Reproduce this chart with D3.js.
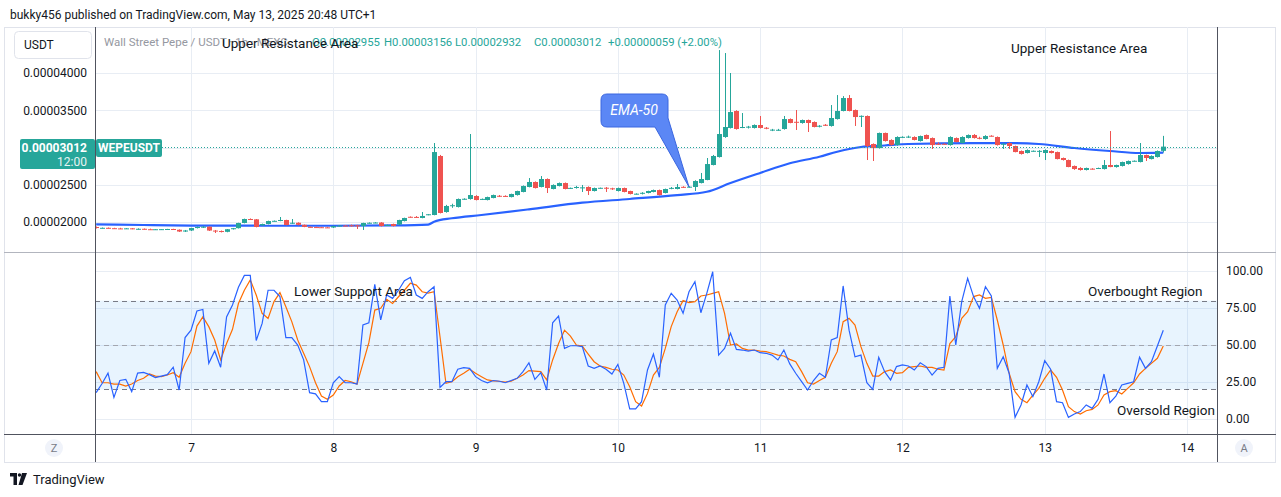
<!DOCTYPE html>
<html>
<head>
<meta charset="utf-8">
<script src="https://cdn.jsdelivr.net/npm/d3@7"></script>
<style>
  body { margin: 0; background: #fff; }
  svg text { font-family: Roboto, "Noto Sans", sans-serif; }
</style>
</head>
<body>
<svg id="chart" width="1281" height="497"></svg>
<script>
// hourly bars, first one at May 6 08:00, prices in units of 0.00000001
var firstBar = Date.UTC(2025, 4, 6, 8);

var open = [1933,1919,1922,1917,1914,1911,1915,1906,1909,1903,1900,1903,1904,1906,1896,1872,1886,1919,1925,1937,
  1885,1879,1868,1903,1917,1987,2040,2036,1955,1973,2013,2016,2027,1980,1990,1962,1935,1932,1930,1928,
  1926,1946,1952,1955,1955,1946,1987,1990,1993,1955,1973,1966,2013,2070,2068,2054,2097,2094,2886,2134,
  2215,2201,2309,2309,2349,2300,2295,2322,2352,2350,2335,2362,2403,2470,2537,2470,2577,2443,2483,2523,
  2452,2462,2456,2470,2416,2456,2460,2452,2416,2456,2416,2376,2380,2389,2403,2429,2389,2450,2443,2472,
  2466,2470,2523,2564,2765,2872,3141,3262,3490,3268,3270,3262,3302,3265,3232,3232,3248,3382,3345,3329,
  3369,3342,3285,3305,3289,3382,3490,3664,3503,3415,3423,3047,2993,3195,3101,3033,3138,3140,3141,3087,
  3168,3127,3050,3050,3033,3127,3060,3127,3168,3130,3114,3158,3141,3044,3060,3020,2953,2926,2950,2950,
  2926,2953,2939,2859,2832,2752,2725,2698,2716,2720,2711,2765,2738,2752,2778,2819,2805,2899,2845,2872,2955];
var high = [1940,1926,1926,1922,1922,1917,1918,1915,1913,1911,1905,1906,1908,1909,1900,1893,1922,1940,1945,1940,
  1893,1886,1906,1920,1990,2045,2048,2040,1978,2018,2020,2067,2030,2040,1995,1966,1940,1937,1935,1934,
  1950,1958,1958,1965,1962,1990,1995,1998,1998,1964,1978,2030,2058,2075,2080,2134,2105,3060,2900,2230,
  2245,2315,2318,3181,2360,2315,2340,2368,2362,2358,2380,2420,2490,2590,2545,2617,2585,2505,2530,2530,
  2462,2485,2497,2478,2462,2462,2470,2460,2462,2462,2420,2385,2400,2420,2435,2435,2448,2470,2510,2480,
  2478,2560,2658,2859,2900,4308,4268,4000,3500,3463,3290,3310,3423,3275,3250,3250,3423,3390,3503,3375,
  3375,3350,3300,3315,3570,3704,3690,3704,3510,3430,3430,3055,3200,3200,3110,3150,3150,3160,3150,3160,
  3175,3135,3070,3055,3150,3135,3150,3175,3180,3145,3165,3165,3148,3055,3068,3025,2960,2975,2960,2965,
  2975,2960,2945,2865,2838,2758,2735,2730,2722,2730,2832,3221,2770,2810,2825,2826,3060,2905,2895,2960,3156];
var low = [1913,1913,1913,1910,1905,1906,1903,1899,1899,1896,1896,1898,1899,1898,1866,1866,1879,1913,1920,1879,
  1852,1860,1862,1899,1913,1982,2030,1928,1950,1968,2008,2010,1955,1975,1955,1930,1928,1925,1924,1922,
  1920,1942,1944,1940,1906,1893,1980,1984,1940,1950,1940,1960,2008,2060,2058,2050,2090,2090,2115,2125,
  2190,2195,2300,2300,2290,2295,2290,2318,2335,2338,2330,2355,2398,2465,2450,2465,2389,2438,2478,2438,
  2445,2448,2403,2362,2410,2450,2403,2430,2410,2398,2370,2370,2370,2384,2398,2355,2384,2440,2438,2460,
  2460,2416,2518,2560,2760,2865,3130,3255,3240,3260,3255,3255,3255,3245,3220,3225,3240,3325,3235,3320,
  3208,3270,3270,3290,3280,3375,3485,3485,3289,3275,2832,2819,2985,3080,3025,3025,3130,3128,3095,3080,
  3110,2980,3035,3040,3025,3070,3055,3120,3120,3110,3105,3148,3025,2980,2980,2935,2905,2920,2945,2872,
  2832,2920,2840,2825,2735,2700,2690,2692,2705,2712,2705,2735,2730,2745,2770,2812,2800,2819,2840,2865,2932];
var close = [1919,1922,1917,1914,1911,1915,1906,1909,1903,1900,1903,1904,1906,1901,1872,1886,1919,1933,1937,1885,
  1879,1868,1903,1917,1987,2040,2036,1933,1973,2013,2016,2027,1960,1990,1962,1935,1932,1930,1928,1926,
  1946,1952,1948,1950,1952,1987,1990,1993,1946,1960,1946,2027,2054,2065,2064,2081,2104,2939,2121,2215,
  2225,2309,2312,2362,2295,2310,2335,2362,2346,2344,2376,2416,2483,2537,2456,2577,2456,2497,2523,2443,
  2458,2470,2465,2416,2456,2459,2452,2443,2456,2403,2376,2380,2392,2416,2429,2362,2443,2458,2470,2466,
  2474,2550,2577,2778,2886,3181,3275,3476,3248,3275,3280,3302,3262,3258,3240,3238,3382,3329,3340,3369,
  3329,3275,3292,3298,3396,3490,3664,3490,3409,3425,3020,2993,3195,3087,3033,3141,3143,3146,3101,3154,
  3114,3033,3044,3045,3141,3074,3141,3168,3127,3125,3154,3152,3033,3050,3020,2939,2913,2966,2956,2955,
  2966,2926,2845,2832,2738,2711,2698,2725,2711,2725,2765,2738,2765,2805,2819,2822,2899,2859,2886,2953,3012];

// EMA-50 read at a few bars
var emaBars   = [0,8,16,28,40,50,56,57,60,65,73,82,90,98,103,107,112,117,122,125,129,133,137,148,153,159,165,171,176,180];
var emaValues = [1969,1960,1952,1950,1950,1955,1966,2004,2050,2094,2170,2259,2309,2362,2406,2523,2658,2788,2876,2943,3007,3027,3047,3060,3060,3047,2993,2953,2926,2930];

// Stochastic %K and %D
var stochK = [17.8,24,31,14.6,26,26.8,18.5,31,31.5,30,28,29,30,35,19.6,55,60,73,74,37.6,
  46,35,69,77,89,97,97,53,64.6,87,87,82.7,55,55,50,40,17.8,17,11.7,11.7,
  24.5,28.6,24.5,24.5,23.6,63.5,65,91,67,83.8,81.5,87,93.5,95.7,83.8,81.5,86,89.4,21.4,25.2,
  25.2,33.6,34.7,34.2,28.6,26,24.5,26,25.5,24.5,26,27.5,32,38,26.8,31.3,19.6,65,69.6,47.7,
  49.5,49.5,48.9,35.8,34.2,35.8,33.6,30.4,36.9,24.1,6.8,6.8,11.7,33.1,43.9,28.2,77,84.9,80.4,71.4,
  86,92.8,71.8,84.9,99.5,43.2,47.7,57.9,47,46.6,45.9,46.6,44.8,44.4,43.2,39.9,46.6,37.2,30.9,25.2,
  19.6,26,30.9,28.2,53.4,55,89.9,60,42,43.2,24.5,20,41.7,32,26.4,35.4,36.5,35.8,33.1,38,
  35.4,29.7,34.2,34.9,83.1,50,79.3,95,82.7,74.8,89.4,83.1,34.2,42,30.9,1.1,9.5,23,15.1,25.2,
  39.4,33.6,11.7,11,1.1,3.4,5,9.5,7.2,13.3,30.4,11,15.5,23,24.1,25.2,41.7,34.2,38.7,49.3,60];
var stochD = [32,24.5,24.5,23.6,23.6,22.3,23.6,26,27.5,30.4,29,28.6,29.7,31.3,28.2,37.6,45.5,62.8,69,62.4,
  53.4,39.9,51,60.6,78,87,94,83.8,71.4,68,79.3,85.4,75.9,65.8,53.4,44.4,35.4,24.5,15.5,13.3,
  16.2,22.3,26,25.2,23.6,37.6,51.6,73.6,74.8,80.9,78,82.6,87,91.7,90.5,86,85,86,55.6,24.1,
  25.2,28.6,30.9,33.6,30.9,28.6,26.4,25.7,25.5,25,25.5,27.5,29.7,32.7,32.4,32,26.4,39.9,51,60,
  56,50,49.3,43.9,38.7,35.8,34.9,33.6,33.1,29.7,21.8,11.7,8.8,17.3,29.7,34.9,47.7,62.4,72.5,80,
  78.6,79.3,83.1,83.8,84.9,86,71.4,50,50.7,47.7,46.6,46.6,45.9,45.5,44.4,43.2,42.6,40.3,38.7,32,
  24.5,23.6,26,28.2,37.6,45.5,65.8,68,63.5,48.9,37.6,29,29,32,33.1,30.9,31.3,34.9,35.4,35.8,
  34.9,34.9,33.6,33.1,51,55.6,68,72.5,82.7,83.8,81.5,82.2,66.9,50,30.9,18.5,13.3,11,16.2,20.7,
  27.5,33.1,28.2,19.6,8.3,5,3.4,5.6,6.5,9.5,16.2,18.5,19.1,16.9,20.7,24.5,30.4,34.2,37.6,41,49.3];

var priceTicks = [2000, 2500, 3000, 3500, 4000];
var stochTicks = [0, 25, 50, 75, 100];
var lastPrice = 3012;

var green = "#26a69a", red = "#ef5350", grid = "#e8edf4", axisInk = "#131722";

var svg = d3.select("#chart");
var left = 95, right = 1217, top1 = 27, bot1 = 252, top2 = 253, bot2 = 434;

var x = d3.scaleUtc()
    .domain([Date.UTC(2025, 4, 7), Date.UTC(2025, 4, 14)])
    .range([191, 1187]);
var barTime = function(i) { return new Date(firstBar + i * 3600e3); };
var y = d3.scaleLinear().domain([2000, 4000]).range([222, 73]);
var ys = d3.scaleLinear().domain([0, 100]).range([419, 271]);

// header
svg.append("text").attr("x", 10).attr("y", 19).attr("font-size", 12).attr("fill", axisInk)
    .text("bukky456 published on TradingView.com, May 13, 2025 20:48 UTC+1");

// frame
svg.append("rect").attr("x", 4.5).attr("y", 27.5).attr("width", 1271).attr("height", 435)
    .attr("fill", "#fff").attr("stroke", "#e0e3eb");

var defs = svg.append("defs");
defs.append("clipPath").attr("id", "c1").append("rect")
    .attr("x", left).attr("y", top1).attr("width", right - left).attr("height", bot1 - top1);
defs.append("clipPath").attr("id", "c2").append("rect")
    .attr("x", left).attr("y", top2).attr("width", right - left).attr("height", bot2 - top2);

// grid
var days = x.ticks(d3.utcDay.every(1));
svg.append("g").selectAll("line").data(days).join("line")
    .attr("x1", d => Math.round(x(d)) + 0.5).attr("x2", d => Math.round(x(d)) + 0.5)
    .attr("y1", top1).attr("y2", bot2).attr("stroke", grid);
svg.append("g").selectAll("line").data(priceTicks).join("line")
    .attr("x1", left).attr("x2", right)
    .attr("y1", d => Math.round(y(d)) + 0.5).attr("y2", d => Math.round(y(d)) + 0.5)
    .attr("stroke", grid);
svg.append("g").selectAll("line").data(stochTicks).join("line")
    .attr("x1", left).attr("x2", right)
    .attr("y1", d => Math.round(ys(d)) + 0.5).attr("y2", d => Math.round(ys(d)) + 0.5)
    .attr("stroke", grid);

// price pane
var p1 = svg.append("g").attr("clip-path", "url(#c1)");

var ema = d3.line().curve(d3.curveMonotoneX)
    .x(function(d, k) { return x(barTime(emaBars[k])); })
    .y(function(d) { return y(d); });
p1.append("path").datum(emaValues).attr("d", ema)
    .attr("fill", "none").attr("stroke", "#2962ff").attr("stroke-width", 2.2);

var bars = d3.range(open.length);
var candle = p1.append("g").selectAll("g").data(bars).join("g");
candle.append("line")
    .attr("x1", i => Math.round(x(barTime(i))) + 0.5).attr("x2", i => Math.round(x(barTime(i))) + 0.5)
    .attr("y1", i => y(high[i])).attr("y2", i => y(low[i]))
    .attr("stroke", i => close[i] >= open[i] ? green : red);
candle.append("rect")
    .attr("x", i => Math.round(x(barTime(i))) - 2)
    .attr("width", 5)
    .attr("y", i => y(Math.max(open[i], close[i])))
    .attr("height", i => Math.max(1, y(Math.min(open[i], close[i])) - y(Math.max(open[i], close[i]))))
    .attr("fill", i => close[i] >= open[i] ? green : red);

// last price line
svg.append("line").attr("x1", 162).attr("x2", right)
    .attr("y1", Math.round(y(lastPrice)) + 0.5).attr("y2", Math.round(y(lastPrice)) + 0.5)
    .attr("stroke", green).attr("stroke-dasharray", "1,2");

// EMA-50 callout
var cx0 = 601, cx1 = 668, cy0 = 94, cy1 = 127, r = 6;
var tip = [x(barTime(100)), y(2470)];
svg.append("path")
    .attr("d", "M" + (cx0 + r) + "," + cy0 + " H" + (cx1 - r) + " Q" + cx1 + "," + cy0 + " " + cx1 + "," + (cy0 + r) +
      " V118 L" + tip[0] + "," + tip[1] + " L655," + cy1 + " H" + (cx0 + r) +
      " Q" + cx0 + "," + cy1 + " " + cx0 + "," + (cy1 - r) + " V" + (cy0 + r) +
      " Q" + cx0 + "," + cy0 + " " + (cx0 + r) + "," + cy0 + " Z")
    .attr("fill", "#5b87f5").attr("stroke", "#3a66e0");
svg.append("text").attr("x", 634).attr("y", 115).attr("text-anchor", "middle")
    .attr("font-size", 14).attr("font-style", "italic").attr("fill", "#fff").text("EMA-50");

// stochastic pane
var p2 = svg.append("g").attr("clip-path", "url(#c2)");
p2.append("rect").attr("x", left).attr("width", right - left)
    .attr("y", ys(80)).attr("height", ys(20) - ys(80)).attr("fill", "rgba(33,150,243,0.1)");
p2.selectAll(".band").data([80, 50, 20]).join("line")
    .attr("x1", left).attr("x2", right)
    .attr("y1", d => Math.round(ys(d)) + 0.5).attr("y2", d => Math.round(ys(d)) + 0.5)
    .attr("stroke", d => d === 50 ? "#a3a6af" : "#787b86").attr("stroke-dasharray", "5,4");
var sline = d3.line().x((d, i) => x(barTime(i))).y(d => ys(d));
p2.append("path").datum(stochD).attr("d", sline)
    .attr("fill", "none").attr("stroke", "#ff6d00").attr("stroke-width", 1.2);
p2.append("path").datum(stochK).attr("d", sline)
    .attr("fill", "none").attr("stroke", "#2962ff").attr("stroke-width", 1.2);

// axis lines
svg.append("line").attr("x1", 4).attr("x2", 1276).attr("y1", 252.5).attr("y2", 252.5).attr("stroke", "#b2b5be");
svg.append("line").attr("x1", 4).attr("x2", 1276).attr("y1", 434.5).attr("y2", 434.5).attr("stroke", "#50535e");
svg.append("line").attr("x1", 95.5).attr("x2", 95.5).attr("y1", 27).attr("y2", 462).attr("stroke", "#50535e");
svg.append("line").attr("x1", 1217.5).attr("x2", 1217.5).attr("y1", 27).attr("y2", 462).attr("stroke", "#50535e");

// price axis (left)
var pAxis = svg.append("g").attr("transform", "translate(" + left + ",0)")
    .call(d3.axisLeft(y).tickValues(priceTicks).tickSize(0).tickPadding(8)
      .tickFormat(d => (d * 1e-8).toFixed(8)));
pAxis.select(".domain").remove();
pAxis.selectAll("text").attr("font-size", 12).attr("fill", axisInk).attr("font-family", "Roboto, sans-serif");

// stoch axis (right)
var sAxis = svg.append("g").attr("transform", "translate(" + right + ",0)")
    .call(d3.axisRight(ys).tickValues(stochTicks).tickSize(0).tickPadding(9).tickFormat(d3.format(".2f")));
sAxis.select(".domain").remove();
sAxis.selectAll("text").attr("font-size", 12).attr("fill", axisInk).attr("font-family", "Roboto, sans-serif");

// time axis
var tAxis = svg.append("g").attr("transform", "translate(0," + bot2 + ")")
    .call(d3.axisBottom(x).ticks(d3.utcDay.every(1)).tickSize(0).tickPadding(9).tickFormat(d3.utcFormat("%-d")));
tAxis.select(".domain").remove();
tAxis.selectAll("text").attr("font-size", 12).attr("fill", axisInk).attr("font-family", "Roboto, sans-serif");

// Z / A buttons
[[54, "Z"], [1244, "A"]].forEach(function(b) {
  svg.append("circle").attr("cx", b[0]).attr("cy", 448).attr("r", 9).attr("fill", "#f0f3fa");
  svg.append("text").attr("x", b[0]).attr("y", 452).attr("text-anchor", "middle")
      .attr("font-size", 11).attr("fill", "#787b86").text(b[1]);
});

// USDT button
svg.append("rect").attr("x", 14.5).attr("y", 31.5).attr("width", 77).attr("height", 27).attr("rx", 4)
    .attr("fill", "#fff").attr("stroke", "#e0e3eb");
svg.append("text").attr("x", 24).attr("y", 49).attr("font-size", 12).attr("fill", axisInk).text("USDT");

// last price labels
svg.append("rect").attr("x", 20).attr("y", 139).attr("width", 75).attr("height", 30).attr("rx", 2).attr("fill", green);
svg.append("text").attr("x", 87).attr("y", 152).attr("text-anchor", "end").attr("font-size", 12)
    .attr("font-weight", "bold").attr("fill", "#fff").text((lastPrice * 1e-8).toFixed(8));
svg.append("text").attr("x", 87).attr("y", 166).attr("text-anchor", "end").attr("font-size", 12)
    .attr("fill", "#e6f4f2").text("12:00");
svg.append("rect").attr("x", 96).attr("y", 139).attr("width", 66).attr("height", 18).attr("rx", 2).attr("fill", green);
svg.append("text").attr("x", 129).attr("y", 152).attr("text-anchor", "middle").attr("font-size", 12)
    .attr("font-weight", "bold").attr("fill", "#fff").text("WEPEUSDT");

// legend row (the annotation text sits on top of it, as in the original)
svg.append("text").attr("x", 104).attr("y", 46).attr("font-size", 11.5).attr("fill", "#9598a1")
    .text("Wall Street Pepe / USDT · 1h · MEXC");
var last = open.length - 1;
var ohlc = ["O" + (open[last] * 1e-8).toFixed(8), "H" + (high[last] * 1e-8).toFixed(8),
  "L" + (low[last] * 1e-8).toFixed(8), "C" + (close[last] * 1e-8).toFixed(8),
  "+" + ((close[last] - close[last - 1]) * 1e-8).toFixed(8) + " (+2.00%)"];
var ohlcX = [312, 384, 455, 534, 608];
ohlc.forEach(function(t, k) {
  svg.append("text").attr("x", ohlcX[k]).attr("y", 46).attr("font-size", 11.3).attr("fill", green).text(t);
});

// annotations
var notes = [[222, 48, "Upper Resistance Area"], [1011, 53, "Upper Resistance Area"],
  [294, 296, "Lower Support Area"], [1088, 296, "Overbought Region"], [1117, 415, "Oversold Region"]];
notes.forEach(function(n) {
  svg.append("text").attr("x", n[0]).attr("y", n[1]).attr("font-size", 13.5).attr("fill", axisInk).text(n[2]);
});

// TradingView logo
var logo = svg.append("g").attr("fill", axisInk);
logo.append("path").attr("d", "M10,473 H17 V485 H13.5 V476.5 H10 Z");
logo.append("circle").attr("cx", 19.5).attr("cy", 475).attr("r", 1.7);
logo.append("path").attr("d", "M22,473 H27 L22.5,485 H18.5 Z");
svg.append("text").attr("x", 33).attr("y", 484).attr("font-size", 13).attr("fill", axisInk).text("TradingView");
</script>
</body>
</html>
